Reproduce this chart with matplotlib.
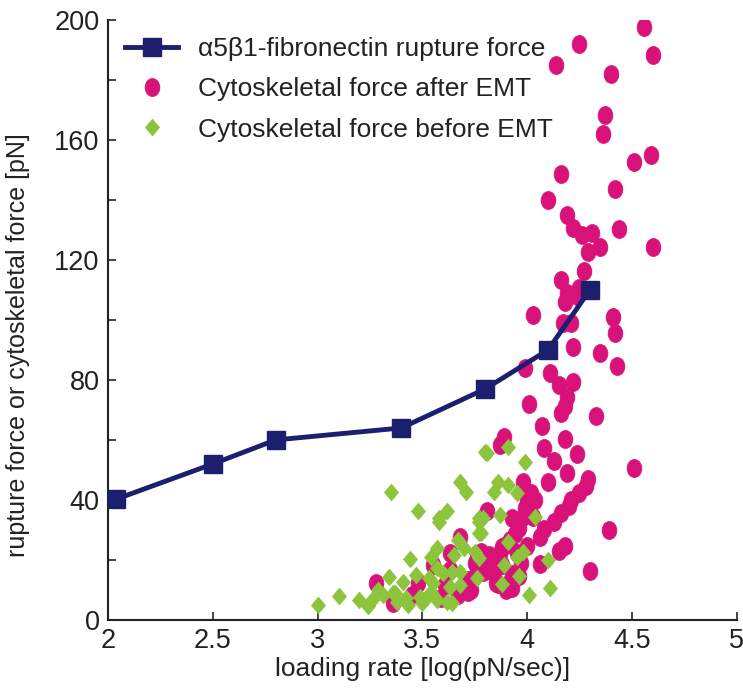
import numpy as np
import matplotlib
matplotlib.use("Agg")
import matplotlib.pyplot as plt
from matplotlib.path import Path
from matplotlib.transforms import Affine2D
from matplotlib.ticker import MultipleLocator

plt.rcParams['font.family'] = ['Liberation Sans', 'DejaVu Sans']

# alpha5beta1-fibronectin rupture force
rupture_x = [2.04, 2.50, 2.80, 3.40, 3.80, 4.10, 4.30]
rupture_y = [40.3, 52.0, 60.0, 64.0, 77.0, 90.0, 110.0]

# Cytoskeletal force after EMT
after_x = [4.56, 4.25, 4.60, 4.14, 4.40, 4.37, 4.36, 4.51, 4.59, 4.16, 4.42, 4.10,
           4.19, 4.22, 4.26, 4.31, 4.44, 4.35, 4.29, 4.60, 4.27, 4.16, 4.19, 4.25,
           4.18, 4.24, 4.03, 4.41, 4.17, 4.21, 4.42, 4.22, 4.35, 4.43, 3.99, 4.11,
           4.15, 4.22, 4.19, 4.18, 4.16, 4.01, 4.33, 4.07, 3.89, 3.87, 4.18, 4.08,
           4.24, 4.13, 4.51, 4.19, 3.98, 4.10, 4.29, 4.28, 4.25, 4.21, 4.20, 4.16,
           4.13, 4.08, 4.06, 4.02, 4.04, 4.00, 3.99, 3.98, 4.03, 3.93, 3.81, 3.96,
           3.94, 3.92, 3.90, 4.00, 4.39, 4.18, 4.15, 3.87, 3.84, 3.80, 3.82, 3.78,
           3.95, 3.97, 4.06, 4.30, 3.93, 3.96, 3.91, 3.86, 3.90, 3.93, 3.84, 3.75,
           3.76, 3.79, 3.73, 3.85, 3.88, 3.82, 3.85, 3.88, 3.68, 3.63, 3.55, 3.48,
           3.45, 3.36, 3.59, 3.67, 3.72, 3.72, 3.76, 3.63, 3.61, 3.28]
after_y = [197.6, 192.0, 188.3, 184.8, 182.0, 168.1, 161.9, 152.6, 154.8, 148.6, 143.6, 139.8,
           134.8, 130.6, 128.3, 128.9, 130.2, 124.2, 122.6, 124.2, 116.4, 113.3, 108.9, 110.6,
           105.8, 107.8, 101.7, 101.1, 98.9, 98.9, 95.6, 90.9, 88.9, 84.7, 84.1, 82.4,
           78.3, 79.2, 74.4, 71.3, 68.9, 72.0, 68.0, 64.7, 61.1, 58.3, 60.2, 57.4,
           55.3, 53.0, 50.8, 48.9, 46.1, 46.1, 47.0, 44.7, 42.4, 40.0, 38.0, 35.6,
           32.8, 30.2, 27.6, 42.4, 40.0, 40.0, 37.2, 34.4, 34.4, 33.9, 36.3, 30.8,
           28.6, 26.7, 25.0, 24.7, 30.0, 24.7, 23.1, 22.2, 18.9, 17.8, 21.7, 22.8,
           22.2, 18.9, 18.6, 16.4, 15.2, 14.7, 11.9, 11.9, 10.0, 10.6, 16.1, 18.9,
           16.1, 16.1, 10.0, 17.2, 18.3, 16.7, 12.2, 24.4, 27.8, 22.2, 18.3, 12.2,
           8.3, 5.6, 7.2, 8.3, 9.4, 13.3, 22.0, 16.7, 11.7, 12.2]

# Cytoskeletal force before EMT
before_x = [3.00, 3.10, 3.20, 3.24, 3.26, 3.29, 3.34, 3.31, 3.36, 3.35, 3.68, 3.71,
            3.48, 3.62, 3.58, 3.80, 3.77, 3.58, 3.77, 3.77, 3.67, 3.57, 3.44, 3.54,
            3.65, 3.57, 3.41, 3.47, 3.53, 3.60, 3.64, 3.68, 3.68, 3.63, 3.55, 3.54,
            3.52, 3.50, 3.49, 3.37, 3.38, 3.42, 3.43, 3.57, 3.62, 3.64, 3.76, 3.75,
            3.77, 3.70, 3.81, 3.91, 3.99, 3.86, 3.84, 3.91, 3.95, 3.87, 3.79, 4.04,
            3.91, 3.98, 3.95, 3.89, 4.10, 3.96, 3.88, 4.01, 4.11, 3.78]
before_y = [5.0, 8.0, 6.7, 4.8, 6.7, 10.0, 14.4, 8.3, 9.0, 42.8, 46.1, 42.8,
            36.4, 36.4, 33.9, 56.1, 34.0, 32.8, 32.8, 28.9, 26.7, 23.9, 20.3, 21.1,
            21.7, 17.2, 12.8, 15.0, 13.9, 15.6, 16.1, 16.1, 11.7, 11.1, 12.2, 9.4,
            7.8, 5.6, 7.8, 8.9, 6.1, 7.2, 5.0, 6.7, 5.9, 5.6, 13.9, 22.8,
            20.6, 23.9, 55.8, 57.8, 52.8, 46.1, 42.8, 45.0, 42.2, 35.0, 33.9, 34.4,
            26.1, 22.8, 21.1, 18.3, 20.0, 14.7, 12.0, 8.3, 10.6, 28.9]

x_ticks = [2, 2.5, 3, 3.5, 4, 4.5, 5]
x_tick_labels = ['2', '2.5', '3', '3.5', '4', '4.5', '5']
y_ticks = [0, 40, 80, 120, 160, 200]

NAVY = '#1c1f6e'
MAGENTA = '#d9127a'
GREEN = '#8cc43c'

# custom markers
ellipse = Path.unit_circle().transformed(Affine2D().scale(0.82, 1.0))
diamond = Path([(0, 1), (0.85, 0), (0, -1), (-0.85, 0), (0, 1)],
               [Path.MOVETO, Path.LINETO, Path.LINETO, Path.LINETO, Path.CLOSEPOLY])

fig = plt.figure(figsize=(7.43, 6.90), dpi=100)
ax = fig.add_axes([0.1454, 0.1014, 0.846, 0.870])

ax.plot(after_x, after_y, linestyle='none', marker=ellipse, markersize=13,
        color=MAGENTA, markeredgecolor=MAGENTA, markeredgewidth=0.5, zorder=2,
        label='Cytoskeletal force after EMT')
ax.plot(before_x, before_y, linestyle='none', marker=diamond, markersize=12,
        color=GREEN, markeredgecolor=GREEN, markeredgewidth=0.5, zorder=3,
        label='Cytoskeletal force before EMT')
ax.plot(rupture_x, rupture_y, color=NAVY, linewidth=3.5, marker='s', markersize=13,
        markerfacecolor=NAVY, markeredgecolor=NAVY, zorder=4,
        label='α5β1-fibronectin rupture force')

ax.set_xlim(2, 5)
ax.set_ylim(0, 200)
ax.set_xticks(x_ticks)
ax.set_xticklabels(x_tick_labels)
ax.set_yticks(y_ticks)
ax.yaxis.set_minor_locator(MultipleLocator(20))

for s in ['top', 'right']:
    ax.spines[s].set_visible(False)
for s in ['left', 'bottom']:
    ax.spines[s].set_linewidth(1.5)
    ax.spines[s].set_color('#222222')

ax.tick_params(axis='both', which='both', direction='in', length=6, width=1.2,
               labelsize=19.5, colors='#222222', pad=6)
ax.tick_params(axis='y', which='minor', length=6)

ax.set_xlabel('loading rate [log(pN/sec)]', fontsize=19, color='#222222', labelpad=2)
ax.set_ylabel('rupture force or cytoskeletal force [pN]', fontsize=18, color='#222222')
ax.yaxis.set_label_coords(-0.124, 0.458)

handles, labels = ax.get_legend_handles_labels()
order = [2, 0, 1]
leg = ax.legend([handles[i] for i in order], [labels[i] for i in order],
                loc='upper left', bbox_to_anchor=(0.0, 1.0), frameon=False,
                fontsize=19, handlelength=2.0, handletextpad=0.75, labelspacing=0.62,
                borderaxespad=0.25, numpoints=1)
for t in leg.get_texts():
    t.set_color('#222222')

fig.savefig('out.png', dpi=100)
